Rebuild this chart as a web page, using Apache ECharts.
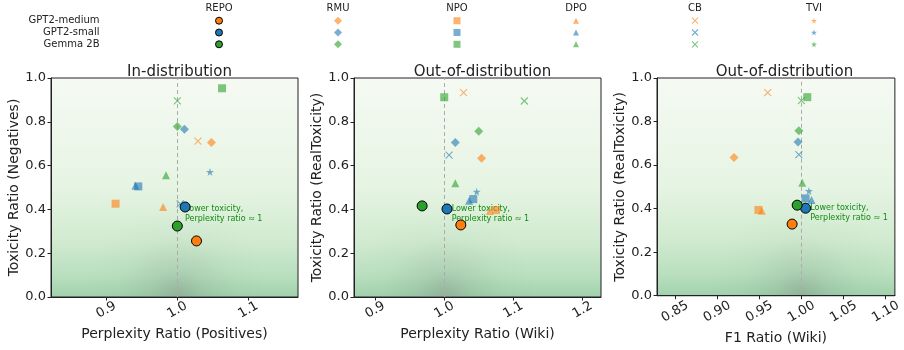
<!DOCTYPE html>
<html>
<head>
<meta charset="utf-8">
<script src="https://cdn.jsdelivr.net/npm/echarts@6/dist/echarts.min.js"></script>
<style>
  html, body { margin: 0; padding: 0; background: #fff; }
  #chart { width: 904px; height: 350px; }
</style>
</head>
<body>
<div id="chart"></div>
<script>
const models  = ['GPT2-medium', 'GPT2-small', 'Gemma 2B'];
const methods = ['REPO', 'RMU', 'NPO', 'DPO', 'CB', 'TVI'];
const modelColors = ['#ff7f0e', '#1f77b4', '#2ca02c'];

// [x, y] per model (GPT2-medium, GPT2-small, Gemma 2B); null = not drawn
const inRepo = [[1.027, 0.256], [1.011, 0.411], [1.000, 0.324]];
const inRmu  = [[1.048, 0.706], [1.010, 0.766], [1.000, 0.779]];
const inNpo  = [[0.913, 0.426], [0.945, 0.505], [1.063, 0.953]];
const inDpo  = [[0.980, 0.411], [0.941, 0.508], [0.984, 0.556]];
const inCb   = [[1.029, 0.712], [1.004, 0.425], [1.000, 0.896]];
const inTvi  = [null, [1.046, 0.571], null];

const wikiRepo = [[1.024, 0.329], [1.004, 0.402], [0.968, 0.416]];
const wikiRmu  = [[1.054, 0.633], [1.016, 0.706], [1.050, 0.757]];
const wikiNpo  = [[1.075, 0.397], [1.042, 0.447], [1.000, 0.912]];
const wikiDpo  = [[1.066, 0.393], [1.036, 0.440], [1.016, 0.519]];
const wikiCb   = [[1.028, 0.933], [1.007, 0.648], [1.116, 0.895]];
const wikiTvi  = [null, [1.047, 0.481], null];

const f1Repo = [[0.989, 0.329], [1.005, 0.402], [0.995, 0.416]];
const f1Rmu  = [[0.920, 0.635], [0.996, 0.706], [0.997, 0.758]];
const f1Npo  = [[0.949, 0.394], [1.005, 0.447], [1.007, 0.912]];
const f1Dpo  = [[0.953, 0.390], [1.012, 0.440], [1.001, 0.519]];
const f1Cb   = [[0.960, 0.933], [0.997, 0.648], [1.000, 0.896]];
const f1Tvi  = [null, [1.009, 0.481], null];

const xTicksIn   = [0.9, 1.0, 1.1];
const xTicksWiki = [0.9, 1.0, 1.1, 1.2];
const xTicksF1   = [0.85, 0.90, 0.95, 1.00, 1.05, 1.10];
const noteText = 'Lower toxicity,\nPerplexity ratio \u2248 1';
const notePos  = [1.01, 0.38];

const FONT = 'DejaVu Sans';
const INK = '#222';

const panels = [
  { title: 'In-distribution', xName: 'Perplexity Ratio (Positives)', yName: 'Toxicity Ratio (Negatives)',
    xMin: 0.822, xMax: 1.170, ticks: xTicksIn, digits: 1, labelMargin: 13, nameGap: 21,
    grid: { left: 51, top: 78, width: 247, height: 219 },
    sets: [inRepo, inRmu, inNpo, inDpo, inCb, inTvi] },
  { title: 'Out-of-distribution', xName: 'Perplexity Ratio (Wiki)', yName: 'Toxicity Ratio (RealToxicity)',
    xMin: 0.8694, xMax: 1.2269, ticks: xTicksWiki, digits: 1, labelMargin: 13, nameGap: 21,
    grid: { left: 354, top: 78, width: 247, height: 219 },
    sets: [wikiRepo, wikiRmu, wikiNpo, wikiDpo, wikiCb, wikiTvi] },
  { title: 'Out-of-distribution', xName: 'F1 Ratio (Wiki)', yName: 'Toxicity Ratio (RealToxicity)',
    xMin: 0.8286, xMax: 1.111, ticks: xTicksF1, digits: 2, labelMargin: 16, nameGap: 29,
    grid: { left: 657, top: 78, width: 245, height: 219 },
    sets: [f1Repo, f1Rmu, f1Npo, f1Dpo, f1Cb, f1Tvi] }
];

const crossPath = 'path://M0,0L10,10M10,0L0,10';
const starPath = 'path://M50,0L61,35L98,35L68,57L79,91L50,70L21,91L32,57L2,35L39,35Z';

const markerStyle = {
  REPO: { symbol: 'circle',   size: 10, legendSize: 7, opacity: 1 },
  RMU:  { symbol: 'diamond',  size: 9,  legendSize: 8, opacity: 0.6 },
  NPO:  { symbol: 'rect',     size: 8,  legendSize: 7, opacity: 0.6 },
  DPO:  { symbol: 'triangle', size: 8,  legendSize: 6, opacity: 0.6 },
  CB:   { symbol: crossPath,  size: 7,  legendSize: 6, opacity: 0.6, line: true },
  TVI:  { symbol: starPath,   size: 8,  legendSize: 6, opacity: 0.6 }
};

function itemStyleFor(method, k) {
  const st = markerStyle[method];
  const c = modelColors[k];
  if (st.line) return { color: 'rgba(0,0,0,0)', borderColor: c, borderWidth: 1.1, opacity: st.opacity };
  if (method === 'REPO') return { color: c, borderColor: '#000', borderWidth: 1, opacity: 1 };
  return { color: c, opacity: st.opacity };
}

const grids = [], xAxes = [], yAxes = [], titles = [], series = [];

panels.forEach((p, i) => {
  grids.push(Object.assign({
    show: true, borderColor: INK, borderWidth: 1,
    backgroundColor: {
      type: 'linear', x: 0, y: 0, x2: 0, y2: 1,
      colorStops: [
        { offset: 0, color: '#f5faf3' },
        { offset: 0.5, color: '#e6f4e3' },
        { offset: 0.75, color: '#d0eacf' },
        { offset: 0.9, color: '#b9dfbf' },
        { offset: 1, color: '#a0d2ac' }
      ]
    }
  }, p.grid));

  titles.push({
    text: p.title, left: p.grid.left + p.grid.width / 2, top: 60, textAlign: 'center',
    textStyle: { fontFamily: FONT, fontSize: 15, fontWeight: 'normal', color: INK }
  });

  xAxes.push({
    type: 'value', gridIndex: i, min: p.xMin, max: p.xMax, z: 4,
    name: p.xName, nameLocation: 'middle', nameGap: p.nameGap,
    nameTextStyle: { fontFamily: FONT, fontSize: 14, color: INK },
    axisLine: { show: true, lineStyle: { color: INK, width: 1 } },
    axisTick: { show: true, length: 3.5, customValues: p.ticks, lineStyle: { color: INK } },
    axisLabel: {
      customValues: p.ticks, rotate: 30, align: 'center', verticalAlign: 'middle',
      margin: p.labelMargin, fontFamily: FONT, fontSize: 13, color: INK,
      formatter: v => v.toFixed(p.digits)
    },
    splitLine: { show: false }
  });

  yAxes.push({
    type: 'value', gridIndex: i, min: 0, max: 1, interval: 0.2, z: 4,
    name: p.yName, nameLocation: 'middle', nameRotate: 90, nameGap: 23,
    nameTextStyle: { fontFamily: FONT, fontSize: 14, color: INK },
    axisLine: { show: true, lineStyle: { color: INK, width: 1 } },
    axisTick: { show: true, length: 3.5, lineStyle: { color: INK } },
    axisLabel: { margin: 5, fontFamily: FONT, fontSize: 13, color: INK, formatter: v => v.toFixed(1) },
    splitLine: { show: false }
  });

  const cx = (1 - p.xMin) / (p.xMax - p.xMin);

  methods.forEach((m, j) => {
    const st = markerStyle[m];
    const data = [];
    p.sets[j].forEach((pt, k) => {
      if (pt) data.push({ value: pt, itemStyle: itemStyleFor(m, k) });
    });
    const s = {
      type: 'scatter', name: m, xAxisIndex: i, yAxisIndex: i,
      symbol: st.symbol, symbolSize: st.size, data: data,
      z: m === 'REPO' ? 3 : 2, silent: true
    };
    if (m === 'REPO') {
      s.markArea = {
        silent: true, z: 1,
        itemStyle: {
          color: {
            type: 'radial', x: cx, y: 1, r: 0.42,
            colorStops: [
              { offset: 0, color: 'rgba(115,120,115,0.36)' },
              { offset: 0.3, color: 'rgba(110,135,120,0.17)' },
              { offset: 0.65, color: 'rgba(110,145,125,0.04)' },
              { offset: 1, color: 'rgba(110,150,125,0)' }
            ]
          }
        },
        data: [[{ xAxis: p.xMin, yAxis: 0 }, { xAxis: p.xMax, yAxis: 1 }]]
      };
      s.markLine = {
        silent: true, z: 1.2, symbol: ['none', 'none'],
        lineStyle: { type: [4, 3], color: '#ababab', width: 1 },
        label: { show: false },
        data: [{ xAxis: 1 }]
      };
      s.markPoint = {
        silent: true, z: 1.5, symbol: 'circle', symbolSize: 1,
        itemStyle: { color: 'rgba(0,0,0,0)' },
        label: {
          show: true, position: 'right', distance: 0, formatter: noteText,
          fontFamily: FONT, fontSize: 8, lineHeight: 9.5, color: '#138a13', align: 'left'
        },
        data: [{ coord: notePos }]
      };
    }
    series.push(s);
  });
});

// legend drawn as a small category grid
const L = panels.length;
grids.push({ left: 159.5, top: 14.8, width: 714, height: 35.4, show: false });
xAxes.push({
  type: 'category', gridIndex: L, data: methods, position: 'top',
  axisLine: { show: false }, axisTick: { show: false }, splitLine: { show: false },
  axisLabel: { interval: 0, margin: 1, fontFamily: FONT, fontSize: 10, color: INK }
});
yAxes.push({
  type: 'category', gridIndex: L, data: models, inverse: true,
  axisLine: { show: false }, axisTick: { show: false }, splitLine: { show: false },
  axisLabel: { interval: 0, margin: 60, fontFamily: FONT, fontSize: 10, color: INK }
});
methods.forEach(m => {
  const st = markerStyle[m];
  series.push({
    type: 'scatter', xAxisIndex: L, yAxisIndex: L, silent: true,
    symbol: st.symbol, symbolSize: st.legendSize,
    data: models.map((md, k) => ({ value: [m, md], itemStyle: itemStyleFor(m, k) }))
  });
});

const chart = echarts.init(document.getElementById('chart'), null, { renderer: 'canvas' });
chart.setOption({
  animation: false,
  backgroundColor: '#fff',
  textStyle: { fontFamily: FONT },
  title: titles,
  grid: grids,
  xAxis: xAxes,
  yAxis: yAxes,
  series: series
});
</script>
</body>
</html>
